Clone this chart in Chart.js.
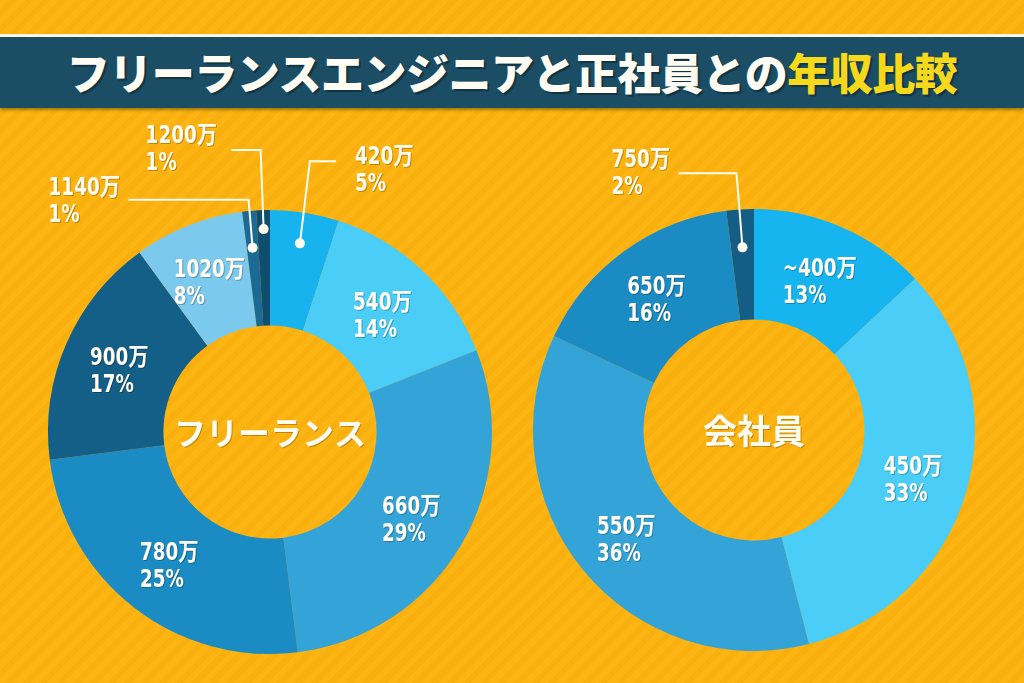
<!DOCTYPE html>
<html lang="ja">
<head>
<meta charset="utf-8">
<script src="https://cdn.jsdelivr.net/npm/chart.js@4"></script>
<style>
  html, body { margin: 0; padding: 0; }
  #page {
    position: relative;
    width: 1024px;
    height: 683px;
    overflow: hidden;
    background: repeating-linear-gradient(135deg, #fcb513 0px, #fcb513 6px, #f9b00e 6px, #f9b00e 12px);
  }
  #banner {
    position: absolute;
    left: 0; top: 34px;
    width: 1024px; height: 74px;
    background: #1b4e65;
    border-top: 3px solid #fbf6e6;
    box-shadow: 0 2px 3px rgba(0,0,0,0.35);
    box-sizing: border-box;
  }
  #title {
    position: absolute;
    left: 0; top: 34px;
    width: 1024px; height: 74px;
    line-height: 74px;
    text-align: center;
    font-family: "Noto Sans CJK JP", sans-serif;
    font-weight: 900;
    font-size: 43px;
    color: #fffdf3;
    letter-spacing: -0.5px;
    text-shadow: 2px 2px 1px rgba(0,0,0,0.35);
  }
  #title span { color: #f7d91b; }
  canvas { position: absolute; }
</style>
</head>
<body>
<div id="page">
  <div id="banner"></div>
  <div id="title">フリーランスエンジニアと正社員との<span>年収比較</span></div>
  <canvas id="freeChart" width="512" height="573" style="left:0;top:110px;width:512px;height:573px"></canvas>
  <canvas id="empChart" width="512" height="573" style="left:512px;top:110px;width:512px;height:573px"></canvas>
</div>

<script>
// Annual income bands and their shares (%)
const freeLabels = ['420万', '540万', '660万', '780万', '900万', '1020万', '1140万', '1200万'];
const freeShares = [5, 14, 29, 25, 17, 8, 1, 1];

const empLabels = ['~400万', '450万', '550万', '650万', '750万'];
const empShares = [13, 33, 36, 16, 2];

const freeColors = ['#16b3ef', '#4acdf7', '#34a4d8', '#1a8bc3', '#135f87', '#7cc9ee', '#1b6a95', '#104e70'];
const empColors = ['#17b5ef', '#4acdf7', '#34a4d8', '#1a8bc3', '#145d84'];

const labelFont = 'bold 24px "Liberation Sans Narrow", "DejaVu Sans Condensed", "Noto Sans CJK JP", sans-serif';
const squeeze = 0.85; // labels in the original use a condensed face

// left-aligned text, squeezed horizontally
function narrowText(ctx, text, x, y) {
    ctx.save();
    ctx.translate(x, y);
    ctx.scale(squeeze, 1);
    ctx.fillText(text, 0, 0);
    ctx.restore();
}

// draws the "xxx万 / yy%" labels, callouts for the thin slices and the centre caption
const sliceLabels = {
    id: 'sliceLabels',
    afterDatasetsDraw(chart, args, opts) {
        const ctx = chart.ctx;
        const meta = chart.getDatasetMeta(0);
        const labels = chart.data.labels;
        const values = chart.data.datasets[0].data;
        const callouts = opts.callouts || {};

        ctx.save();
        ctx.fillStyle = '#fffdf2';
        ctx.textBaseline = 'middle';
        ctx.textAlign = 'left';
        ctx.shadowColor = 'rgba(0,0,0,0.25)';
        ctx.shadowOffsetX = 1;
        ctx.shadowOffsetY = 1;

        meta.data.forEach((arc, i) => {
            const line1 = labels[i];
            const line2 = values[i] + '%';
            ctx.font = labelFont;

            const c = callouts[i];
            if (c) {
                const p = arc.getProps(['x', 'y', 'startAngle', 'endAngle', 'outerRadius'], true);
                const mid = (p.startAngle + p.endAngle) / 2;
                const r = p.outerRadius - c.inset;
                const dx = p.x + Math.cos(mid) * r;
                const dy = p.y + Math.sin(mid) * r;
                const ex = dx + c.elbow[0];
                const ey = dy + c.elbow[1];
                const hx = dx + c.reach;

                ctx.save();
                ctx.shadowColor = 'transparent';
                ctx.strokeStyle = '#fffdf2';
                ctx.lineWidth = 2;
                ctx.beginPath();
                ctx.moveTo(dx, dy);
                ctx.lineTo(ex, ey);
                ctx.lineTo(hx, ey);
                ctx.stroke();
                ctx.beginPath();
                ctx.arc(dx, dy, 5, 0, Math.PI * 2);
                ctx.fill();
                ctx.restore();

                const tx = dx + c.text[0];
                narrowText(ctx, line1, tx, ey + c.text[1]);
                narrowText(ctx, line2, tx, ey + c.text[1] + 27);
            } else {
                const pos = arc.tooltipPosition(true);
                const w = ctx.measureText(line1).width * squeeze;
                narrowText(ctx, line1, pos.x - w / 2, pos.y - 8);
                narrowText(ctx, line2, pos.x - w / 2, pos.y + 19);
            }
        });

        // centre caption
        const first = meta.data[0];
        ctx.font = 'bold ' + opts.centerSize + 'px "Noto Sans CJK JP", sans-serif';
        ctx.textAlign = 'center';
        ctx.fillText(opts.center, first.x, first.y + 1);
        ctx.restore();
    }
};

function makeDoughnut(id, labels, shares, colors, cutout, padding, pluginOpts) {
    return new Chart(document.getElementById(id), {
        type: 'doughnut',
        data: {
            labels: labels,
            datasets: [{
                data: shares,
                backgroundColor: colors,
                borderWidth: 0
            }]
        },
        options: {
            responsive: false,
            animation: false,
            cutout: cutout,
            layout: { padding: padding },
            plugins: {
                legend: { display: false },
                tooltip: { enabled: false },
                sliceLabels: pluginOpts
            }
        },
        plugins: [sliceLabels]
    });
}

makeDoughnut('freeChart', freeLabels, freeShares, freeColors, '48%',
    { left: 48, top: 100, right: 20, bottom: 29 },
    {
        center: 'フリーランス',
        centerSize: 32,
        callouts: {
            0: { inset: 31, elbow: [10, -82], reach: 36, text: [55, -4] },
            6: { inset: 37, elbow: [-4, -48], reach: -124, text: [-204, -11] },
            7: { inset: 19, elbow: [-3, -79], reach: -32, text: [-118, -13] }
        }
    });

makeDoughnut('empChart', empLabels, empShares, empColors, '50%',
    { left: 21, top: 99, right: 49, bottom: 32 },
    {
        center: '会社員',
        centerSize: 34,
        callouts: {
            4: { inset: 38, elbow: [-6, -74], reach: -64, text: [-131, -13] }
        }
    });
</script>
</body>
</html>
